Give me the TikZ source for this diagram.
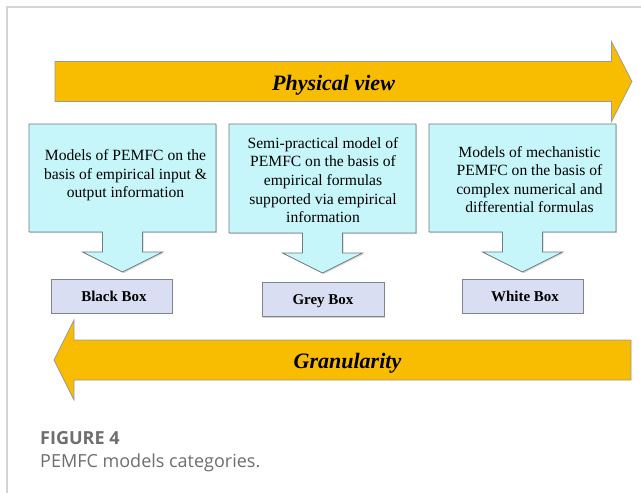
\documentclass[tikz,border=0pt]{standalone}
\usepackage{fontspec}
\setmainfont{Liberation Serif}
\newfontfamily\capfont{Open Sans}
\usetikzlibrary{calc,shadows}

\definecolor{arrowgold}{HTML}{F8BC00}
\definecolor{goldedge}{HTML}{9A9A9A}
\definecolor{calloutfill}{HTML}{C6F6FA}
\definecolor{calloutedge}{HTML}{6F7C82}
\definecolor{tagfill}{HTML}{D9DEF2}
\definecolor{tagedge}{HTML}{7C8590}
\definecolor{framegray}{HTML}{D4D4D4}
\definecolor{captiongray}{HTML}{6E6E6E}

\tikzset{
  bigarrow/.style={fill=arrowgold, draw=goldedge, line width=0.7pt, line join=miter},
  arrowlabel/.style={font=\fontsize{22}{26}\selectfont\bfseries\itshape, inner sep=0pt, anchor=base},
  callgeom/.style={minimum width=187pt, minimum height=108pt, inner sep=0pt, outer sep=0pt},
  callout/.style={fill=calloutfill, draw=calloutedge, line width=0.7pt, line join=miter,
    drop shadow={shadow xshift=1.2pt, shadow yshift=-1.2pt, opacity=0.15, fill=black}},
  calltext/.style={font=\fontsize{15.6}{18.6}\selectfont, align=center, inner sep=0pt, anchor=north},
  tagbox/.style={fill=tagfill, draw=tagedge, line width=0.7pt, minimum height=34pt,
    inner sep=0pt, outer sep=0pt, text depth=0pt,
    font=\fontsize{15}{18}\selectfont\bfseries,
    drop shadow={shadow xshift=1.2pt, shadow yshift=-1.2pt, opacity=0.18, fill=black}},
}

% box with a down-pointing stem and head below its bottom edge
\newcommand\calloutpath[1]{%
  \path[callout] (#1.north west) -- (#1.north east) -- (#1.south east)
    -- ($(#1.south)+(20,0)$) -- ++(0,20) -- ++(20,0)
    -- ($(#1.south)+(0,40)$)
    -- ($(#1.south)+(-40,20)$) -- ++(20,0) -- ($(#1.south)+(-20,0)$)
    -- (#1.south west) -- cycle;}

\begin{document}
\begin{tikzpicture}[x=1pt, y=-1pt]
\useasboundingbox (0,0) rectangle (641,493);
\fill[white] (0,0) rectangle (641,493);

% page frame
\draw[framegray, line width=1.3pt] (641,7) -- (7,7) -- (7,493);

% physical view arrow (pointing right)
\path[bigarrow] (55,61.5) -- (611.5,61.5) -- (611.5,41.5) -- (632,81.5)
  -- (611.5,121.5) -- (611.5,101.5) -- (55,101.5) -- cycle;
\node[arrowlabel] (pv) at (333.5,90) {Physical view};

% model description callouts
\node[callgeom] (b1) at (122.5,178) {};
\node[callgeom, minimum height=109pt] (b2) at (322.5,178.5) {};
\node[callgeom] (b3) at (522.5,178) {};
\calloutpath{b1}
\calloutpath{b2}
\calloutpath{b3}

\node[calltext] (t1) at (125.5,149.3) {Models of PEMFC on the\\basis of empirical input \&\\output information};
\node[calltext] (t2) at (323,137.1) {Semi-practical model of\\PEMFC on the basis of\\empirical formulas\\supported via empirical\\information};
\node[calltext] (t3) at (529.5,146) {Models of mechanistic\\PEMFC on the basis of\\complex numerical and\\differential formulas};

% category tags
\node[tagbox, minimum width=120.5pt] (bb) at (112,296) {\hspace{4pt}Black Box};
\node[tagbox, minimum width=122pt] (gb) at (323,299.5) {Grey Box};
\node[tagbox, minimum width=121pt] (wb) at (522.5,296) {\hspace{5pt}White Box};

% granularity arrow (pointing left)
\path[bigarrow] (54,360) -- (74,320) -- (74,340) -- (631,340) -- (631,380)
  -- (74,380) -- (74,400) -- cycle;
\node[arrowlabel] (gr) at (347.5,368) {Granularity};

% caption
\node[anchor=base west, inner sep=0pt, text=captiongray,
  font=\capfont\fontsize{18}{22}\selectfont\bfseries] (fig) at (40,444.5) {FIGURE 4};
\node[anchor=base west, inner sep=0pt, text=captiongray,
  font=\capfont\fontsize{18}{22}\selectfont] (cap) at (40,467) {PEMFC models categories.};
\end{tikzpicture}
\end{document}
